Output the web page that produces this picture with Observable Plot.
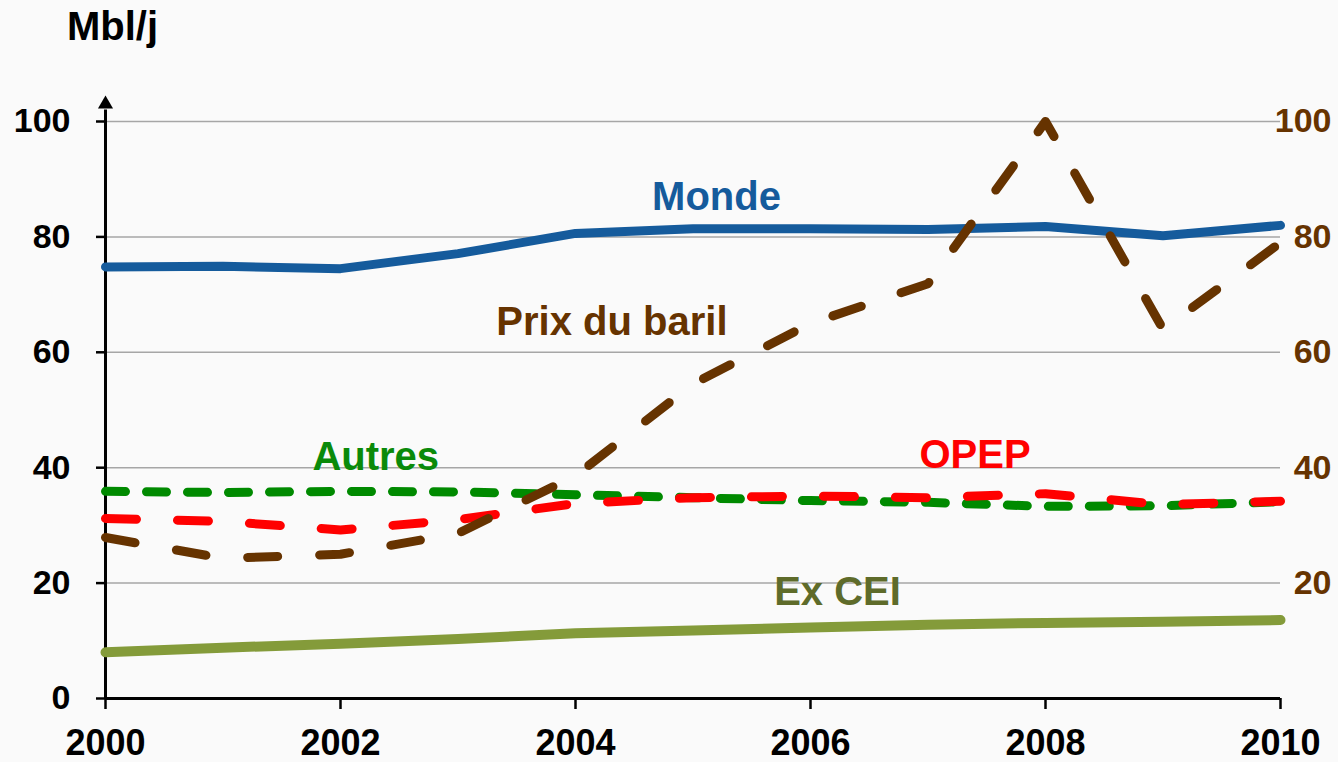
<!DOCTYPE html>
<html>
<head>
<meta charset="utf-8">
<script src="https://cdn.jsdelivr.net/npm/d3@7"></script>
<script src="https://cdn.jsdelivr.net/npm/@observablehq/plot@0.6"></script>
<style>
  html, body { margin: 0; padding: 0; background: #fafafa; }
  #chart svg { display: block; }
</style>
</head>
<body>
<div id="chart"></div>
<script>
// ---- Data ----
const years      = [2000, 2001, 2002, 2003, 2004, 2005, 2006, 2007, 2008, 2009, 2010];
const monde      = [74.8, 74.9, 74.5, 77.1, 80.6, 81.4, 81.4, 81.3, 81.8, 80.2, 82.0];
const prixBaril  = [27.9, 24.3, 25.0, 28.6, 38.6, 54.5, 65.0, 71.9, 100.0, 64.0, 79.0];
const autres     = [35.9, 35.7, 35.9, 35.8, 35.3, 34.8, 34.3, 34.0, 33.3, 33.4, 34.1];
const opep       = [31.2, 30.7, 29.2, 31.0, 33.8, 34.8, 35.1, 34.8, 35.5, 33.6, 34.2];
const exCEI      = [8.0, 8.8, 9.5, 10.3, 11.3, 11.8, 12.3, 12.8, 13.1, 13.3, 13.6];

const leftTicks  = [0, 20, 40, 60, 80, 100];
const rightTicks = [20, 40, 60, 80, 100];
const gridTicks  = [20, 40, 60, 80, 100];
const xTicks     = [2000, 2002, 2004, 2006, 2008, 2010];
const unitLabel  = "Mbl/j";

const seriesNames  = ["Ex CEI", "Monde", "Autres", "OPEP", "Prix du baril"];
const labelX       = [2006.23, 2005.2, 2002.3, 2007.4, 2004.31];
const labelY       = [18.5, 86.8, 41.9, 42.1, 65.2];

// ---- Build tables ----
const toRows = (vals) => years.map((year, i) => ({year, value: vals[i]}));
const labels = seriesNames.map((name, i) => ({name, x: labelX[i], y: labelY[i]}));

const colors = {
  "Ex CEI": "#849b3a",
  "Monde": "#155b9c",
  "Autres": "#008a00",
  "OPEP": "#ff0000",
  "Prix du baril": "#663300"
};
const labelColors = {
  "Ex CEI": "#5e6b2a",
  "Monde": "#155b9c",
  "Autres": "#0a8a0a",
  "OPEP": "#ff0000",
  "Prix du baril": "#663300"
};

const chart = Plot.plot({
  width: 1338,
  height: 762,
  marginLeft: 105,
  marginRight: 58,
  marginTop: 121,
  marginBottom: 64,
  style: {
    background: "transparent",
    fontFamily: "'Liberation Sans', Arial, sans-serif",
    fontWeight: "bold",
    overflow: "visible"
  },
  x: {domain: [2000, 2010]},
  y: {domain: [0, 100]},
  marks: [
    Plot.gridY(gridTicks, {stroke: "#a6a6a6", strokeOpacity: 1, strokeWidth: 1.5}),
    Plot.axisY(leftTicks, {
      tickSize: 9, tickPadding: 26, fontSize: 34, fill: "#000",
      stroke: "#000", strokeWidth: 2.5, label: null
    }),
    Plot.axisX(xTicks, {
      tickSize: 11, tickPadding: 20, fontSize: 36, fill: "#000",
      stroke: "#000", strokeWidth: 2.5, label: null,
      tickFormat: d => String(d)
    }),
    Plot.ruleY([0], {stroke: "#000", strokeWidth: 3}),
    Plot.ruleX([2000], {y1: 0, y2: 102, stroke: "#000", strokeWidth: 3}),
    Plot.dot([2000], {x: d => d, y: () => 103, symbol: "triangle", r: 5.6, fill: "#000", stroke: "none"}),
    Plot.text(rightTicks, {
      x: () => 2010, y: d => d, text: d => String(d),
      textAnchor: "end", dx: 51, lineAnchor: "middle",
      fill: "#663300", fontSize: 34
    }),
    // series lines
    Plot.line(toRows(exCEI), {x: "year", y: "value", stroke: colors["Ex CEI"], strokeWidth: 10, strokeLinejoin: "round"}),
    Plot.line(toRows(monde), {x: "year", y: "value", stroke: colors["Monde"], strokeWidth: 9, strokeLinejoin: "round"}),
    Plot.line(toRows(autres), {x: "year", y: "value", stroke: colors["Autres"], strokeWidth: 9,
      strokeDasharray: "20,21", strokeLinecap: "round", strokeLinejoin: "round"}),
    Plot.line(toRows(opep), {x: "year", y: "value", stroke: colors["OPEP"], strokeWidth: 9,
      strokeDasharray: "31,41", strokeLinecap: "round", strokeLinejoin: "round"}),
    Plot.line(toRows(prixBaril), {x: "year", y: "value", stroke: colors["Prix du baril"], strokeWidth: 9,
      strokeDasharray: "30,42", strokeLinecap: "round", strokeLinejoin: "round"}),
    // series labels
    Plot.text(labels, {
      x: "x", y: "y", text: "name",
      fill: d => labelColors[d.name],
      fontSize: 40, textAnchor: "middle", lineAnchor: "middle"
    }),
    // unit label
    Plot.text([unitLabel], {
      frameAnchor: "top-left", dx: 7, dy: -94,
      fontSize: 40, textAnchor: "middle", lineAnchor: "middle", fill: "#000"
    })
  ]
});

document.getElementById("chart").append(chart);
</script>
</body>
</html>
